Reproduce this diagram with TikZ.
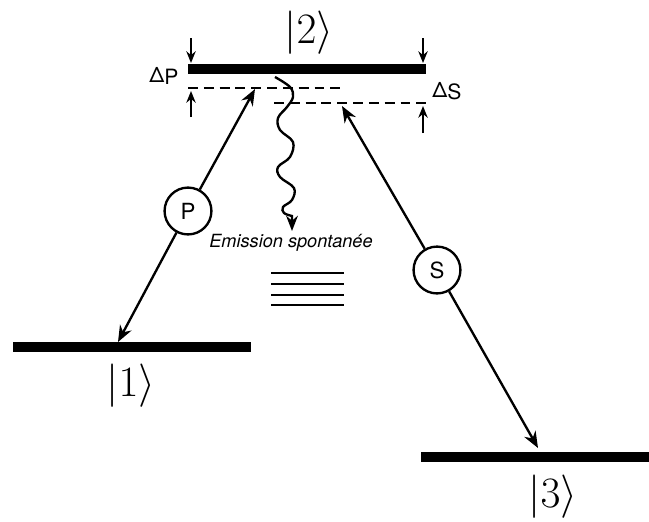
\RequirePackage{fix-cm}
\documentclass[tikz,border=0pt]{standalone}
\usepackage{fontspec}
\newfontfamily\helv{TeX Gyre Heros}
\usetikzlibrary{arrows.meta}
\tikzset{
  level/.style={line width=8pt},
  ket/.style={font=\fontsize{37}{42}\selectfont},
  detuning/.style={line width=2pt,dash pattern=on 8.5pt off 5pt},
  laser/.style={line width=2pt,-{Stealth[length=14pt,width=11pt]}},
  field/.style={draw,circle,line width=2pt,minimum size=40pt,inner sep=0pt,
    font=\helv\fontsize{19}{22}\selectfont},
  gap/.style={line width=2pt,-{Stealth[length=10pt,width=8pt]}},
  deltalabel/.style={font=\helv\fontsize{18}{21}\selectfont,inner sep=0pt}
}
\begin{document}
\begin{tikzpicture}[x=0.03cm,y=-0.03cm]
\useasboundingbox (0,0) rectangle (649,521);
% levels
\coordinate (l2a) at (188,69);  \coordinate (l2b) at (426,69);
\coordinate (l1a) at (13,347);  \coordinate (l1b) at (251,347);
\coordinate (l3a) at (421,457); \coordinate (l3b) at (649,457);
\draw[level] (l2a) -- (l2b);
\draw[level] (l1a) -- (l1b);
\draw[level] (l3a) -- (l3b);
\node[ket] (k2) at (309,33) {$|2\rangle$};
\node[ket] (k1) at (131,386) {$|1\rangle$};
\node[ket] (k3) at (553,497) {$|3\rangle$};
% detunings
\coordinate (dpa) at (188,88);  \coordinate (dpb) at (345,88);
\coordinate (dsa) at (274,103); \coordinate (dsb) at (430,103);
\draw[detuning] (dpa) -- (dpb);
\draw[detuning] (dsa) -- (dsb);
\coordinate (gp1) at (191,38);  \coordinate (gp1e) at (191,63);
\coordinate (gp2) at (191,117); \coordinate (gp2e) at (191,91);
\coordinate (gs1) at (423,38);  \coordinate (gs1e) at (423,63);
\coordinate (gs2) at (423,133); \coordinate (gs2e) at (423,106);
\draw[gap] (gp1) -- (gp1e);
\draw[gap] (gp2) -- (gp2e);
\draw[gap] (gs1) -- (gs1e);
\draw[gap] (gs2) -- (gs2e);
\node[deltalabel] (dP) at (164,76) {Δ\raisebox{-2pt}{P}};
\node[deltalabel] (dS) at (447,91) {Δ\raisebox{-2pt}{S}};
% pump and Stokes
\coordinate (ptop) at (255,89);  \coordinate (pbot) at (118,342);
\coordinate (stop) at (342,106); \coordinate (sbot) at (538,448);
\node[field] (P) at (188,211) {P};
\node[field] (S) at (437,270) {S};
\draw[laser] (P) -- (ptop);
\draw[laser] (P) -- (pbot);
\draw[laser] (S) -- (stop);
\draw[laser] (S) -- (sbot);
% spontaneous emission
\draw[line width=2pt,-{Stealth[length=13pt,width=10pt]}]
  plot[smooth,tension=0.6] coordinates {(275,77) (290,87) (293,97) (287,107)
  (278,118) (280,130) (293,142) (290,157) (278,167) (280,177) (294,188)
  (292,200) (283,207) (284,213) (292,216)} -- (292,231);
\node[font=\helv\itshape\fontsize{15.5}{18}\selectfont] (em) at (291,243)
  {Emission spontanée};
\foreach \y in {273,284,295,305}
  \draw[line width=2.3pt] (271,\y) -- (344,\y);
\end{tikzpicture}
\end{document}
